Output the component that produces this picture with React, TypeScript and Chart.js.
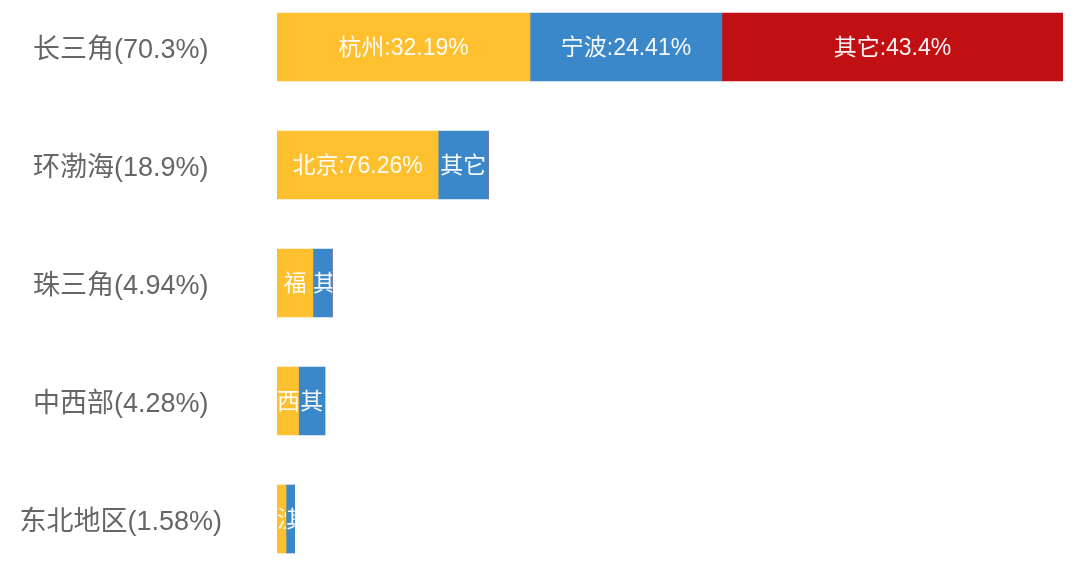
import React, { useEffect, useRef } from 'react';
import { Chart, registerables } from 'chart.js';

Chart.register(...registerables);

const regions = ['长三角', '环渤海', '珠三角', '中西部', '东北地区'];
const regionShares = [70.3, 18.9, 4.94, 4.28, 1.58];

const firstNames = ['杭州', '北京', '福州', '西安', '沈阳'];
const firstShares = [32.19, 76.26, 65, 45, 51];

const secondNames = ['宁波', '其它', '其它', '其它', '其它'];
const secondShares = [24.41, 23.74, 35, 55, 49];

const thirdNames = ['其它', '', '', '', ''];
const thirdShares = [43.4, 0, 0, 0, 0];

const FONT = '"Liberation Sans", "Noto Sans CJK SC", sans-serif';

const segmentLabels = (names: string[], shares: number[]) =>
  names.map((n, i) => (n ? `${n}:${shares[i]}%` : ''));

const segmentValues = (shares: number[]) =>
  shares.map((s, i) => (regionShares[i] * s) / 100);

// draws the white labels inside each segment, cut down to what fits
const segmentLabelPlugin = {
  id: 'segmentLabels',
  afterDatasetsDraw(chart: any) {
    const ctx = chart.ctx;
    ctx.save();
    ctx.font = `23px ${FONT}`;
    ctx.fillStyle = 'rgba(255,255,255,0.95)';
    ctx.textBaseline = 'middle';
    chart.data.datasets.forEach((ds: any, di: number) => {
      const meta = chart.getDatasetMeta(di);
      meta.data.forEach((el: any, i: number) => {
        const label = ds.labels[i];
        if (!label) return;
        const { x, y, base, height } = el.getProps(['x', 'y', 'base', 'height'], true);
        const x0 = Math.min(x, base);
        const w = Math.abs(x - base);
        if (w <= 0) return;
        const chars = Array.from(label) as string[];
        let text = chars[0];
        for (let k = chars.length; k >= 1; k--) {
          const t = chars.slice(0, k).join('');
          if (ctx.measureText(t).width <= w - 2) {
            text = t;
            break;
          }
        }
        const tw = ctx.measureText(text).width;
        ctx.save();
        ctx.beginPath();
        ctx.rect(x0, y - height / 2, w, height);
        ctx.clip();
        if (tw <= w) {
          ctx.textAlign = 'center';
          ctx.fillText(text, x0 + w / 2, y + 2);
        } else {
          ctx.textAlign = 'left';
          ctx.fillText(text, x0, y + 2);
        }
        ctx.restore();
      });
    });
    ctx.restore();
  },
};

const App = () => {
  const canvasRef = useRef<HTMLCanvasElement | null>(null);

  useEffect(() => {
    const ctx = canvasRef.current!.getContext('2d')!;

    const chart = new Chart(ctx, {
      type: 'bar',
      data: {
        labels: regions.map((r, i) => `${r}(${regionShares[i]}%)`),
        datasets: [
          {
            data: segmentValues(firstShares),
            labels: segmentLabels(firstNames, firstShares),
            backgroundColor: '#FEC02F',
            barThickness: 68,
          } as any,
          {
            data: segmentValues(secondShares),
            labels: segmentLabels(secondNames, secondShares),
            backgroundColor: '#3A87C9',
            barThickness: 68,
          },
          {
            data: segmentValues(thirdShares),
            labels: segmentLabels(thirdNames, thirdShares),
            backgroundColor: '#C01014',
            barThickness: 68,
          },
        ],
      },
      options: {
        indexAxis: 'y',
        animation: false,
        responsive: false,
        layout: { padding: { left: 0, right: 17, top: 0, bottom: 0 } },
        plugins: {
          legend: { display: false },
          tooltip: { enabled: false },
        },
        scales: {
          x: {
            stacked: true,
            display: false,
            min: 0,
            max: 70.3,
          },
          y: {
            stacked: true,
            grid: { display: false, drawTicks: false },
            border: { display: false },
            ticks: {
              padding: 55,
              crossAlign: 'center',
              labelOffset: 4,
              color: '#666666',
              font: { size: 27, family: FONT },
            },
            afterFit: (scale: any) => {
              scale.width = 277;
              scale.paddingTop = 0;
              scale.paddingBottom = 0;
            },
          },
        },
      },
      plugins: [segmentLabelPlugin],
    });

    return () => chart.destroy();
  }, []);

  return (
    <div style={{ position: 'absolute', left: 0, top: -12, width: 1080, height: 590, background: '#fff' }}>
      <canvas ref={canvasRef} width={1080} height={590} />
    </div>
  );
};

export default App;
